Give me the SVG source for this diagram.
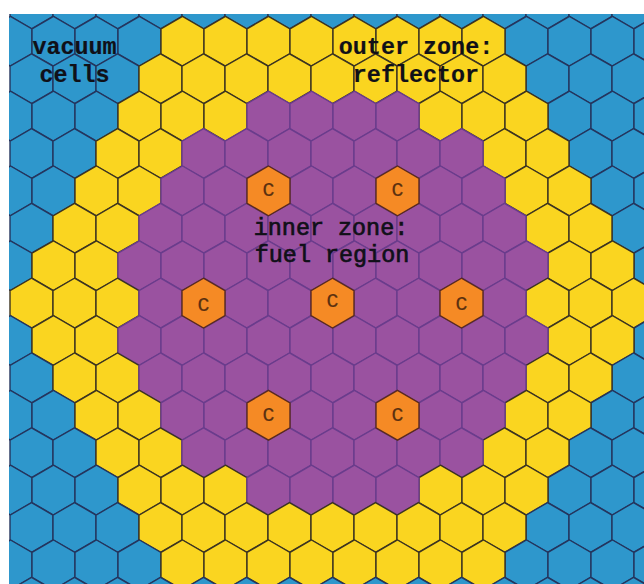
<svg xmlns="http://www.w3.org/2000/svg" width="644" height="584" viewBox="0 0 644 584">
<style>
.b{fill:#2e97cc;stroke:#24355e}
.y{fill:#fad520;stroke:#3c3420}
.p{fill:#9a52a0;stroke:#6a3c8c}
.c{fill:#f58a25;stroke:#5a2a20}
.b,.y,.p,.c{stroke-width:1.4}
text{font-family:"Liberation Mono","Courier New",monospace;fill:#101018;text-anchor:middle}
.l{font-size:23.4px;font-weight:bold;stroke:#101018;stroke-width:.2}
.m{font-size:23.4px;font-weight:normal;stroke:#101018;stroke-width:.7}
.k{font-size:20px;fill:#5a3010;stroke:#5a3010;stroke-width:.2}
</style>
<defs>
<polygon id="h" points="0,-24.9 21.5,-12.45 21.5,12.45 0,24.9 -21.5,12.45 -21.5,-12.45"/>
<clipPath id="f"><rect x="9" y="14" width="635" height="570"/></clipPath>
</defs>
<rect width="644" height="584" fill="#fff"/>
<g id="grid" clip-path="url(#f)">
<g class="b" transform="translate(0,3.9)"><use href="#h" x="31.5"/><use href="#h" x="74.5"/><use href="#h" x="117.5"/><use href="#h" x="160.5"/><use href="#h" x="203.5"/><use href="#h" x="246.5"/><use href="#h" x="289.5"/><use href="#h" x="332.5"/><use href="#h" x="375.5"/><use href="#h" x="418.5"/><use href="#h" x="461.5"/><use href="#h" x="504.5"/><use href="#h" x="547.5"/><use href="#h" x="590.5"/><use href="#h" x="633.5"/></g>
<g transform="translate(0,41.3)"><g class="b"><use href="#h" x="10.5"/><use href="#h" x="53.5"/><use href="#h" x="96.5"/><use href="#h" x="139.5"/><use href="#h" x="526.5"/><use href="#h" x="569.5"/><use href="#h" x="612.5"/><use href="#h" x="655.5"/></g><g class="y"><use href="#h" x="182.5"/><use href="#h" x="225.5"/><use href="#h" x="268.5"/><use href="#h" x="311.5"/><use href="#h" x="354.5"/><use href="#h" x="397.5"/><use href="#h" x="440.5"/><use href="#h" x="483.5"/></g></g>
<g transform="translate(0,78.7)"><g class="b"><use href="#h" x="31.5"/><use href="#h" x="74.5"/><use href="#h" x="117.5"/><use href="#h" x="547.5"/><use href="#h" x="590.5"/><use href="#h" x="633.5"/></g><g class="y"><use href="#h" x="160.5"/><use href="#h" x="203.5"/><use href="#h" x="246.5"/><use href="#h" x="289.5"/><use href="#h" x="332.5"/><use href="#h" x="375.5"/><use href="#h" x="418.5"/><use href="#h" x="461.5"/><use href="#h" x="504.5"/></g></g>
<g transform="translate(0,116.1)"><g class="b"><use href="#h" x="10.5"/><use href="#h" x="53.5"/><use href="#h" x="96.5"/><use href="#h" x="569.5"/><use href="#h" x="612.5"/><use href="#h" x="655.5"/></g><g class="y"><use href="#h" x="139.5"/><use href="#h" x="182.5"/><use href="#h" x="225.5"/><use href="#h" x="440.5"/><use href="#h" x="483.5"/><use href="#h" x="526.5"/></g><g class="p"><use href="#h" x="268.5"/><use href="#h" x="311.5"/><use href="#h" x="354.5"/><use href="#h" x="397.5"/></g></g>
<g transform="translate(0,153.5)"><g class="b"><use href="#h" x="31.5"/><use href="#h" x="74.5"/><use href="#h" x="590.5"/><use href="#h" x="633.5"/></g><g class="y"><use href="#h" x="117.5"/><use href="#h" x="160.5"/><use href="#h" x="504.5"/><use href="#h" x="547.5"/></g><g class="p"><use href="#h" x="203.5"/><use href="#h" x="246.5"/><use href="#h" x="289.5"/><use href="#h" x="332.5"/><use href="#h" x="375.5"/><use href="#h" x="418.5"/><use href="#h" x="461.5"/></g></g>
<g transform="translate(0,190.9)"><g class="b"><use href="#h" x="10.5"/><use href="#h" x="53.5"/><use href="#h" x="612.5"/><use href="#h" x="655.5"/></g><g class="y"><use href="#h" x="96.5"/><use href="#h" x="139.5"/><use href="#h" x="526.5"/><use href="#h" x="569.5"/></g><g class="p"><use href="#h" x="182.5"/><use href="#h" x="225.5"/><use href="#h" x="311.5"/><use href="#h" x="354.5"/><use href="#h" x="440.5"/><use href="#h" x="483.5"/></g></g>
<g transform="translate(0,228.3)"><g class="b"><use href="#h" x="31.5"/><use href="#h" x="633.5"/></g><g class="y"><use href="#h" x="74.5"/><use href="#h" x="117.5"/><use href="#h" x="547.5"/><use href="#h" x="590.5"/></g><g class="p"><use href="#h" x="160.5"/><use href="#h" x="203.5"/><use href="#h" x="246.5"/><use href="#h" x="289.5"/><use href="#h" x="332.5"/><use href="#h" x="375.5"/><use href="#h" x="418.5"/><use href="#h" x="461.5"/><use href="#h" x="504.5"/></g></g>
<g transform="translate(0,265.7)"><g class="b"><use href="#h" x="10.5"/><use href="#h" x="655.5"/></g><g class="y"><use href="#h" x="53.5"/><use href="#h" x="96.5"/><use href="#h" x="569.5"/><use href="#h" x="612.5"/></g><g class="p"><use href="#h" x="139.5"/><use href="#h" x="182.5"/><use href="#h" x="225.5"/><use href="#h" x="268.5"/><use href="#h" x="311.5"/><use href="#h" x="354.5"/><use href="#h" x="397.5"/><use href="#h" x="440.5"/><use href="#h" x="483.5"/><use href="#h" x="526.5"/></g></g>
<g transform="translate(0,303.1)"><g class="y"><use href="#h" x="31.5"/><use href="#h" x="74.5"/><use href="#h" x="117.5"/><use href="#h" x="547.5"/><use href="#h" x="590.5"/><use href="#h" x="633.5"/></g><g class="p"><use href="#h" x="160.5"/><use href="#h" x="246.5"/><use href="#h" x="289.5"/><use href="#h" x="375.5"/><use href="#h" x="418.5"/><use href="#h" x="504.5"/></g></g>
<g transform="translate(0,340.5)"><g class="b"><use href="#h" x="10.5"/><use href="#h" x="655.5"/></g><g class="y"><use href="#h" x="53.5"/><use href="#h" x="96.5"/><use href="#h" x="569.5"/><use href="#h" x="612.5"/></g><g class="p"><use href="#h" x="139.5"/><use href="#h" x="182.5"/><use href="#h" x="225.5"/><use href="#h" x="268.5"/><use href="#h" x="311.5"/><use href="#h" x="354.5"/><use href="#h" x="397.5"/><use href="#h" x="440.5"/><use href="#h" x="483.5"/><use href="#h" x="526.5"/></g></g>
<g transform="translate(0,377.9)"><g class="b"><use href="#h" x="31.5"/><use href="#h" x="633.5"/></g><g class="y"><use href="#h" x="74.5"/><use href="#h" x="117.5"/><use href="#h" x="547.5"/><use href="#h" x="590.5"/></g><g class="p"><use href="#h" x="160.5"/><use href="#h" x="203.5"/><use href="#h" x="246.5"/><use href="#h" x="289.5"/><use href="#h" x="332.5"/><use href="#h" x="375.5"/><use href="#h" x="418.5"/><use href="#h" x="461.5"/><use href="#h" x="504.5"/></g></g>
<g transform="translate(0,415.3)"><g class="b"><use href="#h" x="10.5"/><use href="#h" x="53.5"/><use href="#h" x="612.5"/><use href="#h" x="655.5"/></g><g class="y"><use href="#h" x="96.5"/><use href="#h" x="139.5"/><use href="#h" x="526.5"/><use href="#h" x="569.5"/></g><g class="p"><use href="#h" x="182.5"/><use href="#h" x="225.5"/><use href="#h" x="311.5"/><use href="#h" x="354.5"/><use href="#h" x="440.5"/><use href="#h" x="483.5"/></g></g>
<g transform="translate(0,452.7)"><g class="b"><use href="#h" x="31.5"/><use href="#h" x="74.5"/><use href="#h" x="590.5"/><use href="#h" x="633.5"/></g><g class="y"><use href="#h" x="117.5"/><use href="#h" x="160.5"/><use href="#h" x="504.5"/><use href="#h" x="547.5"/></g><g class="p"><use href="#h" x="203.5"/><use href="#h" x="246.5"/><use href="#h" x="289.5"/><use href="#h" x="332.5"/><use href="#h" x="375.5"/><use href="#h" x="418.5"/><use href="#h" x="461.5"/></g></g>
<g transform="translate(0,490.1)"><g class="b"><use href="#h" x="10.5"/><use href="#h" x="53.5"/><use href="#h" x="96.5"/><use href="#h" x="569.5"/><use href="#h" x="612.5"/><use href="#h" x="655.5"/></g><g class="y"><use href="#h" x="139.5"/><use href="#h" x="182.5"/><use href="#h" x="225.5"/><use href="#h" x="440.5"/><use href="#h" x="483.5"/><use href="#h" x="526.5"/></g><g class="p"><use href="#h" x="268.5"/><use href="#h" x="311.5"/><use href="#h" x="354.5"/><use href="#h" x="397.5"/></g></g>
<g transform="translate(0,527.5)"><g class="b"><use href="#h" x="31.5"/><use href="#h" x="74.5"/><use href="#h" x="117.5"/><use href="#h" x="547.5"/><use href="#h" x="590.5"/><use href="#h" x="633.5"/></g><g class="y"><use href="#h" x="160.5"/><use href="#h" x="203.5"/><use href="#h" x="246.5"/><use href="#h" x="289.5"/><use href="#h" x="332.5"/><use href="#h" x="375.5"/><use href="#h" x="418.5"/><use href="#h" x="461.5"/><use href="#h" x="504.5"/></g></g>
<g transform="translate(0,564.9)"><g class="b"><use href="#h" x="10.5"/><use href="#h" x="53.5"/><use href="#h" x="96.5"/><use href="#h" x="139.5"/><use href="#h" x="526.5"/><use href="#h" x="569.5"/><use href="#h" x="612.5"/><use href="#h" x="655.5"/></g><g class="y"><use href="#h" x="182.5"/><use href="#h" x="225.5"/><use href="#h" x="268.5"/><use href="#h" x="311.5"/><use href="#h" x="354.5"/><use href="#h" x="397.5"/><use href="#h" x="440.5"/><use href="#h" x="483.5"/></g></g>
<g class="b" transform="translate(0,602.3)"><use href="#h" x="31.5"/><use href="#h" x="74.5"/><use href="#h" x="117.5"/><use href="#h" x="160.5"/><use href="#h" x="203.5"/><use href="#h" x="246.5"/><use href="#h" x="289.5"/><use href="#h" x="332.5"/><use href="#h" x="375.5"/><use href="#h" x="418.5"/><use href="#h" x="461.5"/><use href="#h" x="504.5"/><use href="#h" x="547.5"/><use href="#h" x="590.5"/><use href="#h" x="633.5"/></g>
</g>
<g id="c1" class="c" transform="translate(268.5,190.9)"><use href="#h"/><text class="k" y="5">C</text></g>
<g id="c2" class="c" transform="translate(397.5,190.9)"><use href="#h"/><text class="k" y="5">C</text></g>
<g id="c3" class="c" transform="translate(203.5,303.1)"><use href="#h"/><text class="k" y="8">C</text></g>
<g id="c4" class="c" transform="translate(332.5,303.1)"><use href="#h"/><text class="k" y="4">C</text></g>
<g id="c5" class="c" transform="translate(461.5,303.1)"><use href="#h"/><text class="k" y="7">C</text></g>
<g id="c6" class="c" transform="translate(268.5,415.3)"><use href="#h"/><text class="k" y="6">C</text></g>
<g id="c7" class="c" transform="translate(397.5,415.3)"><use href="#h"/><text class="k" y="6">C</text></g>
<g id="labels">
<text class="l" x="74.5" y="54">vacuum</text>
<text class="l" x="74.5" y="82">cells</text>
<text class="l" x="416" y="54">outer zone:</text>
<text class="l" x="416" y="82">reflector</text>
<text class="m" x="331" y="235">inner zone:</text>
<text class="m" x="332" y="262">fuel region</text>
</g>
</svg>
